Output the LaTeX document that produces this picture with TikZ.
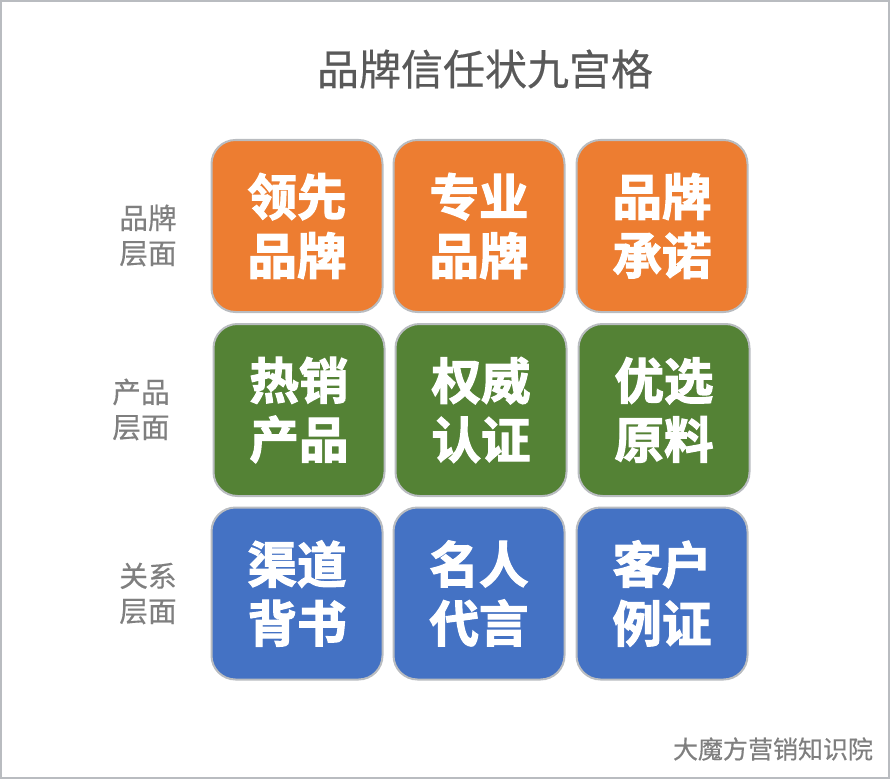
\documentclass[tikz,border=0pt]{standalone}
\usepackage{fontspec}
\setmainfont{Noto Sans CJK SC}
\newfontfamily\cjkbold[FakeBold=2.4]{Noto Sans CJK SC Bold}
\newfontfamily\cjkmed[FakeBold=0.4]{Noto Sans CJK SC}
\definecolor{cOrange}{HTML}{ED7D31}
\definecolor{cGreen}{HTML}{548235}
\definecolor{cBlue}{HTML}{4472C4}
\definecolor{cBorder}{HTML}{B9BCC0}
\definecolor{cSide}{HTML}{7F7F7F}
\definecolor{cTitle}{HTML}{595959}
\tikzset{
  x=1pt,y=-1pt,
  cell/.style={draw=cBorder,line width=2pt,rounded corners=24pt,minimum width=171pt,minimum height=172pt,inner sep=0pt,text=white,align=center,font=\cjkbold\fontsize{49.5}{59}\selectfont},
  side/.style={text=cSide,align=center,inner sep=0pt,font=\cjkmed\fontsize{28.7}{35}\selectfont},
}
\begin{document}
\begin{tikzpicture}
\useasboundingbox (0,0) rectangle (891,781);
\draw[cBorder,line width=2pt] (1,1) rectangle (889,778);
\node[inner sep=0pt,text=cTitle,font=\cjkmed\fontsize{42}{50}\selectfont] (title) at (485,69) {品牌信任状九宫格};
\node[cell,fill=cOrange] (a1) at (297,226) {领先\\品牌};
\node[cell,fill=cOrange] (a2) at (479,226) {专业\\品牌};
\node[cell,fill=cOrange] (a3) at (662,226) {品牌\\承诺};
\node[cell,fill=cGreen] (b1) at (299,410) {热销\\产品};
\node[cell,fill=cGreen] (b2) at (481,410) {权威\\认证};
\node[cell,fill=cGreen] (b3) at (664,410) {优选\\原料};
\node[cell,fill=cBlue] (c1) at (297,593.5) {渠道\\背书};
\node[cell,fill=cBlue] (c2) at (479,593.5) {名人\\代言};
\node[cell,fill=cBlue] (c3) at (662,593.5) {客户\\例证};
\node[side] (s1) at (148,235.5) {品牌\\层面};
\node[side] (s2) at (141,409.5) {产品\\层面};
\node[side] (s3) at (148,593.5) {关系\\层面};
\node[inner sep=0pt,text=cSide,font=\cjkmed\fontsize{25}{30}\selectfont] (foot) at (773,749) {大魔方营销知识院};
\end{tikzpicture}
\end{document}
